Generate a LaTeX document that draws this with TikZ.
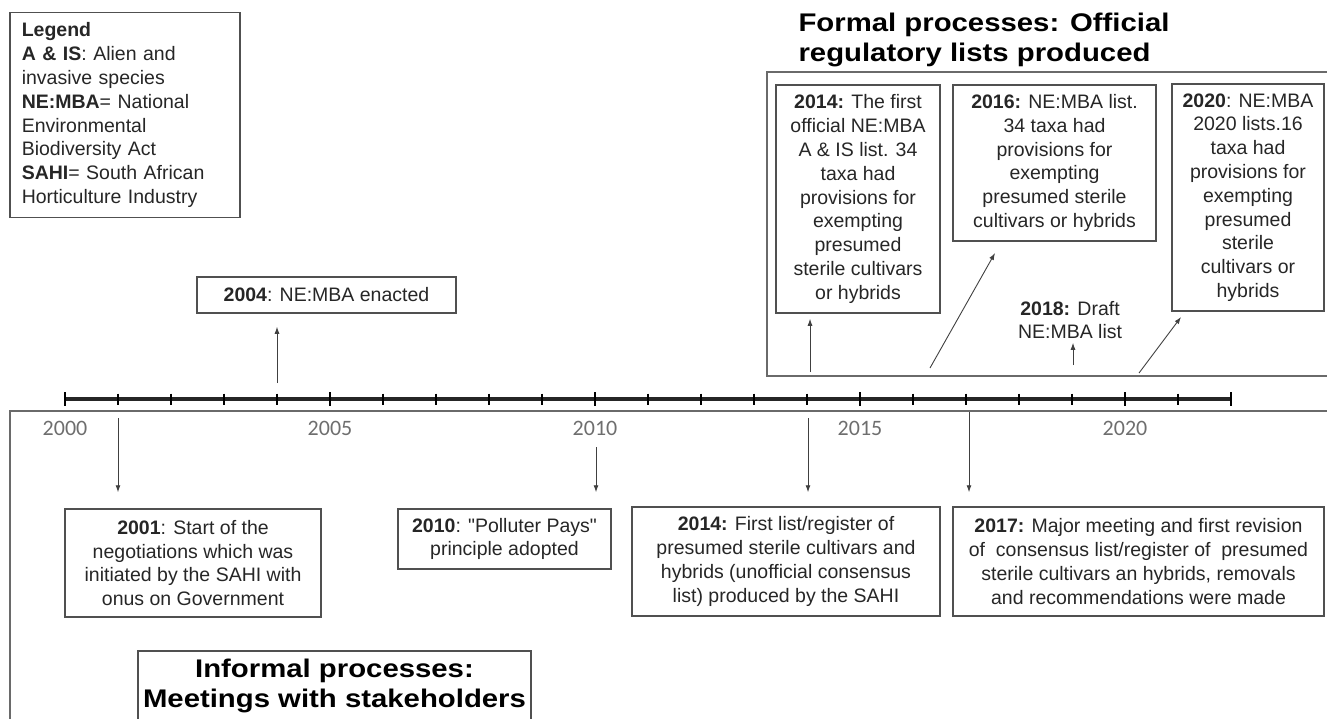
\documentclass[tikz,border=0pt]{standalone}
\usepackage{fontspec}
\setmainfont{Liberation Sans}
\newfontfamily\yearfont{Carlito}
\newfontfamily\titlefont{Liberation Sans}[FakeStretch=1.15]
\usetikzlibrary{arrows.meta}

\definecolor{boxgray}{HTML}{505050}
\definecolor{framegray}{HTML}{6A6A6A}
\definecolor{arrowgray}{HTML}{404040}
\definecolor{yeargray}{HTML}{6E6E6E}
\definecolor{txtgray}{HTML}{262626}

\newcommand\evfont{\fontsize{19.5}{23.8}\selectfont}
\newcommand\bigtitle{\titlefont\bfseries\fontsize{25.5}{30}\selectfont}

\begin{document}
\begin{tikzpicture}[x=1pt, y=-1pt,
    evbox/.style={draw=boxgray, line width=1.5pt, inner sep=3pt, align=center, font=\evfont, text=txtgray},
    evarrow/.style={-{Latex[length=7pt,width=5pt]}, draw=arrowgray, line width=0.9pt},
    frame/.style={draw=framegray, line width=1.8pt},
    yearlbl/.style={font=\yearfont\fontsize{22}{24}\selectfont, text=yeargray},
]
    \clip (0,0) rectangle (1327,719);

    % legend
    \node[evbox, anchor=north west, align=left, text width=206pt, inner xsep=12pt,
          minimum height=205pt] (legend) at (9,12) {
        \textbf{Legend}\\
        \textbf{A \& IS}: Alien and\\
        invasive species\\
        \textbf{NE:MBA}= National\\
        Environmental\\
        Biodiversity Act\\
        \textbf{SAHI}= South African\\
        Horticulture Industry
    };

    % frames
    \draw[frame] (1330,72) -- (767,72) -- (767,376) -- (1330,376);
    \draw[frame] (10,725) -- (10,411) -- (1330,411);

    \node[anchor=west, align=left, font=\bigtitle] (formal) at (795,40) {
        Formal processes: Official\\
        regulatory lists produced
    };

    % time line
    \foreach \y in {0,...,22}
        \coordinate (ax\y) at ({65+53*\y},399);
    \draw[line width=3.5pt, draw=black!85] (ax0) -- (ax22);
    \foreach \y in {1,...,21}
        \draw[line width=2.5pt] ([yshift=5.5pt]ax\y) -- ([yshift=-5.5pt]ax\y);
    \foreach \y in {0,5,10,15,20,22}
        \draw[line width=2.5pt] ([yshift=7pt]ax\y) -- ([yshift=-7pt]ax\y);
    \foreach \y in {0,5,10,15,20}
        \node[yearlbl] (yr\y) at ({65+53*\y},428) {\the\numexpr2000+\y\relax};

    % events above the line
    \node[evbox, minimum width=259pt, minimum height=36pt] (b2004) at (326.5,295) {\textbf{2004}: NE:MBA enacted};
    \node[evbox, minimum width=164pt, minimum height=228pt] (b2014t) at (858,199) {
        \textbf{2014:} The first\\ official NE:MBA\\ A \& IS list. 34\\ taxa had\\ provisions for\\
        exempting\\ presumed\\ sterile cultivars\\ or hybrids};
    \node[evbox, minimum width=203pt, minimum height=156pt] (b2016) at (1054.5,163) {
        \textbf{2016:} NE:MBA list.\\ 34 taxa had\\ provisions for\\ exempting\\
        presumed sterile\\ cultivars or hybrids};
    \node[evbox, draw=none, inner sep=1pt] (n2018) at (1070,320) {\textbf{2018:} Draft\\ NE:MBA list};
    \node[evbox, minimum width=152pt, minimum height=227pt] (b2020) at (1248,197.5) {
        \textbf{2020}: NE:MBA\\ 2020 lists.16\\ taxa had\\ provisions for\\ exempting\\
        presumed\\ sterile\\ cultivars or\\ hybrids};

    \coordinate (s2004) at (277,383);
    \coordinate (s2014t) at (810,372);
    \coordinate (s2016) at (930,368);
    \coordinate (e2016) at (995,253);
    \coordinate (s2018) at (1073,365);
    \coordinate (s2020) at (1139,373);
    \coordinate (e2020) at (1181,317);
    \draw[evarrow, shorten >=13pt] (s2004) -- (s2004 |- b2004.south);
    \draw[evarrow, shorten >=5pt] (s2014t) -- (s2014t |- b2014t.south);
    \draw[evarrow] (s2016) -- (e2016);
    \draw[evarrow, shorten >=2pt] (s2018) -- (s2018 |- n2018.south);
    \draw[evarrow] (s2020) -- (e2020);

    % events below the line
    \node[evbox, minimum width=256pt, minimum height=108pt] (b2001) at (193,563) {
        \textbf{2001}: Start of the\\ negotiations which was\\ initiated by the SAHI with\\ onus on Government};
    \node[evbox, minimum width=213pt, minimum height=60pt] (b2010) at (504.5,539) {
        \textbf{2010}: \textquotedbl Polluter Pays\textquotedbl\\ principle adopted};
    \node[evbox, minimum width=308pt, minimum height=109pt] (b2014) at (786,561.5) {
        \textbf{2014:} First list/register of\\ presumed sterile cultivars and\\
        hybrids (unofficial consensus\\ list) produced by the SAHI};
    \node[evbox, minimum width=371pt, minimum height=109pt] (b2017) at (1138.5,561.5) {
        \textbf{2017:} Major meeting and first revision\\ of\ \ consensus list/register of\ \ presumed\\
        sterile cultivars an hybrids, removals\\ and recommendations were made};

    \coordinate (s2001) at (118,418);
    \coordinate (s2010) at (596,447);
    \coordinate (s2014) at (808,418);
    \coordinate (s2017) at (969,412);
    \draw[evarrow, shorten >=16pt] (s2001) -- (s2001 |- b2001.north);
    \draw[evarrow, shorten >=16pt] (s2010) -- (s2010 |- b2010.north);
    \draw[evarrow, shorten >=14pt] (s2014) -- (s2014 |- b2014.north);
    \draw[evarrow, shorten >=14pt] (s2017) -- (s2017 |- b2017.north);

    \node[evbox, font=\bigtitle, text=black, minimum width=393pt, minimum height=70pt] (informal) at (334.5,686) {
        Informal processes:\\ Meetings with stakeholders};
\end{tikzpicture}
\end{document}
